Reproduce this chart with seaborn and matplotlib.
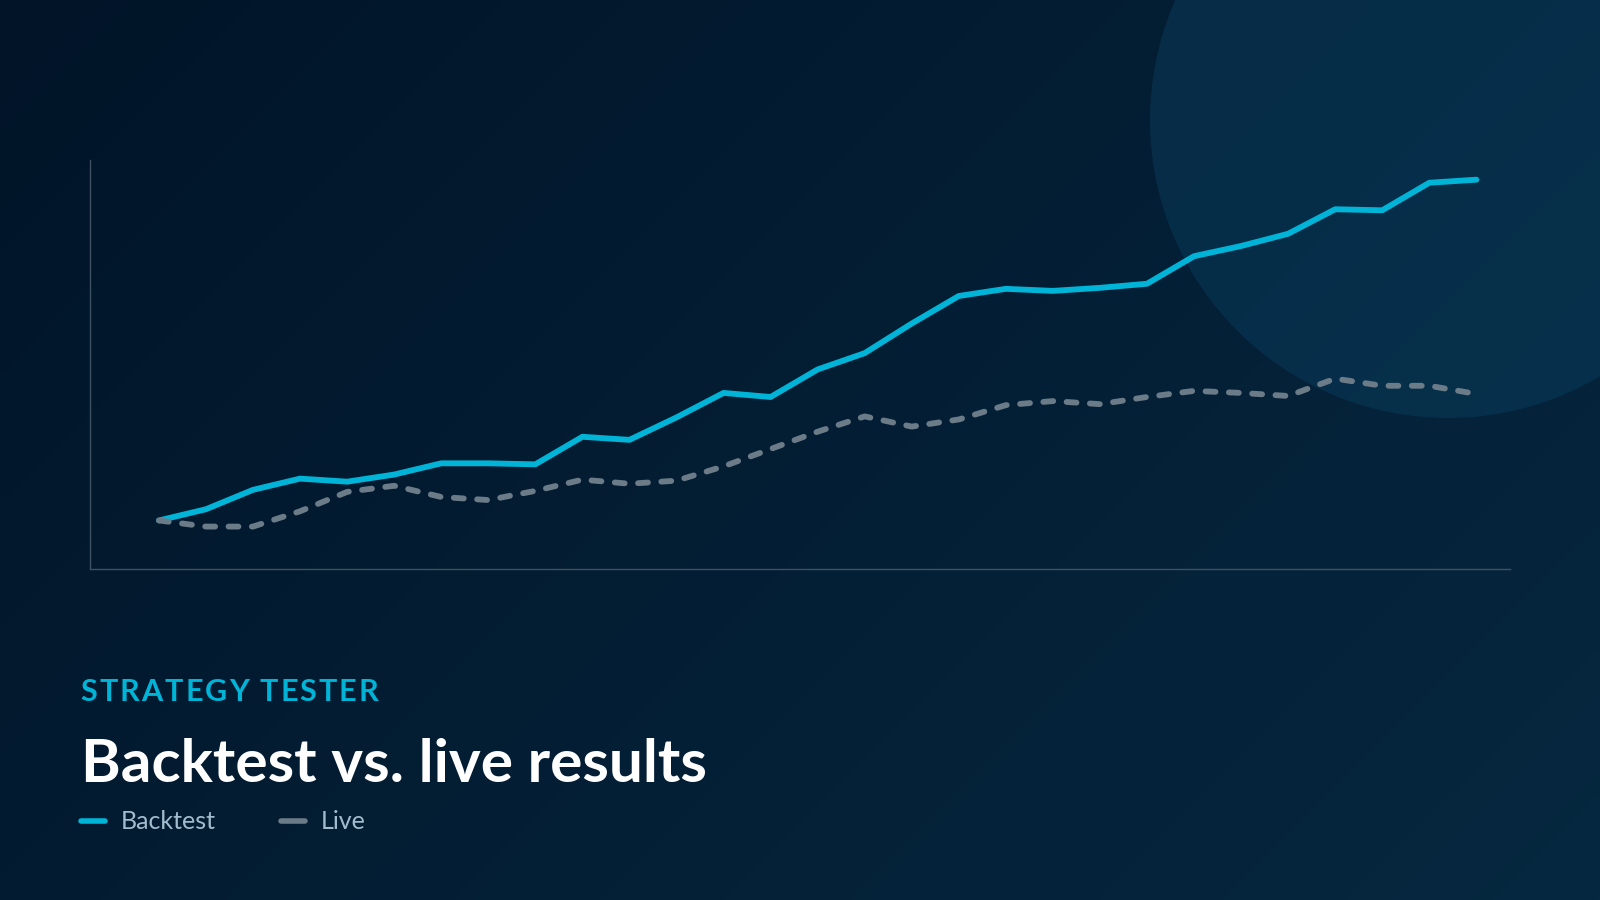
import numpy as np
import pandas as pd
import seaborn as sns
import matplotlib
matplotlib.use("Agg")
import matplotlib.pyplot as plt
from matplotlib.patches import Circle
from matplotlib.lines import Line2D

# ------------------------------------------------------------------
# data (equity index 0-100 scale)
# ------------------------------------------------------------------
periods = list(range(29))
backtest = [12, 14.75, 19.5, 22.25, 21.5, 23.25, 26, 26, 25.75, 32.5,
            31.75, 37.25, 43.25, 42.25, 49, 53, 60.25, 67, 68.75, 68.25,
            69, 70, 76.75, 79.25, 82.25, 88.25, 88, 94.75, 95.5]
live = [12, 10.5, 10.5, 14.25, 19, 20.5, 17.75, 17, 19.25, 22,
        21, 21.75, 25.25, 29.5, 33.75, 37.5, 35, 36.75, 40.25, 41.25,
        40.5, 42.25, 43.75, 43.25, 42.5, 46.75, 45, 45, 43]
series_names = ["Backtest", "Live"]

df = pd.DataFrame({
    "period": periods * 2,
    "value": backtest + live,
    "series": ["Backtest"] * len(backtest) + ["Live"] * len(live),
})

CYAN = "#00b4d8"
GREY = "#6b7b87"
palette = {"Backtest": CYAN, "Live": GREY}

sns.set_theme(style="white")
plt.rcParams["font.family"] = ["Lato", "DejaVu Sans"]

fig = plt.figure(figsize=(16, 9), dpi=100)

# ------------------------------------------------------------------
# background: diagonal gradient + soft circle
# ------------------------------------------------------------------
bg = fig.add_axes([0, 0, 1, 1], zorder=-10)
bg.set_xlim(0, 1600)
bg.set_ylim(900, 0)
bg.axis("off")
c0 = np.array([1, 20, 40]) / 255
c1 = np.array([6, 40, 64]) / 255
xx, yy = np.meshgrid(np.linspace(0, 1, 320), np.linspace(0, 1, 180))
t = np.clip((xx * 1.6 + yy * 0.9) / 2.5, 0, 1)[..., None]
grad = c0 * (1 - t) + c1 * t
bg.imshow(grad, extent=(0, 1600, 900, 0), aspect="auto", interpolation="bilinear")
bg.add_patch(Circle((1448, 120), 298, color="#0a3f60", alpha=0.45, lw=0))

# ------------------------------------------------------------------
# chart
# ------------------------------------------------------------------
ax = fig.add_axes([0.0561, 0.3673, 0.8878, 0.4546])
ax.set_facecolor("none")
sns.lineplot(data=df, x="period", y="value", hue="series", style="series",
             palette=palette, dashes={"Backtest": "", "Live": (1.7, 2.3)},
             linewidth=4.2, legend=False, ax=ax)
for ln in ax.lines:
    ln.set_solid_capstyle("round")
    ln.set_dash_capstyle("round")
    ln.set_solid_joinstyle("round")

ax.set_xlim(-1.47, 28.72)
ax.set_ylim(0, 100.25)
ax.set_xticks([])
ax.set_yticks([])
ax.set_xlabel("")
ax.set_ylabel("")
for side in ["top", "right"]:
    ax.spines[side].set_visible(False)
for side in ["left", "bottom"]:
    ax.spines[side].set_color("#3d5162")
    ax.spines[side].set_linewidth(1.0)

# ------------------------------------------------------------------
# texts
# ------------------------------------------------------------------
fig.canvas.draw()
renderer = fig.canvas.get_renderer()

# letter-spaced kicker
x = 0.0504
for ch in "STRATEGY TESTER":
    tx = fig.text(x, 0.2211, ch, color=CYAN, fontsize=22, fontweight="bold",
                  va="baseline", ha="left")
    w = tx.get_window_extent(renderer=renderer).width
    if ch == " ":
        w = 7
    x += (w + 2.0) / fig.bbox.width

fig.text(0.0504, 0.1315, "Backtest vs. live results", color="white",
         fontsize=43.5, fontweight="bold", va="baseline", ha="left")

# legend
leg_y = 0.0873
leg_x = [0.0504, 0.1754]
for name, lx in zip(series_names, leg_x):
    fig.add_artist(Line2D([lx, lx + 0.0153], [leg_y, leg_y], color=palette[name],
                          lw=4, solid_capstyle="round", transform=fig.transFigure))
    fig.text(lx + 0.0249, leg_y, name, color="#a3bccd", fontsize=18,
             va="center", ha="left")

fig.savefig("out.png", dpi=100)
